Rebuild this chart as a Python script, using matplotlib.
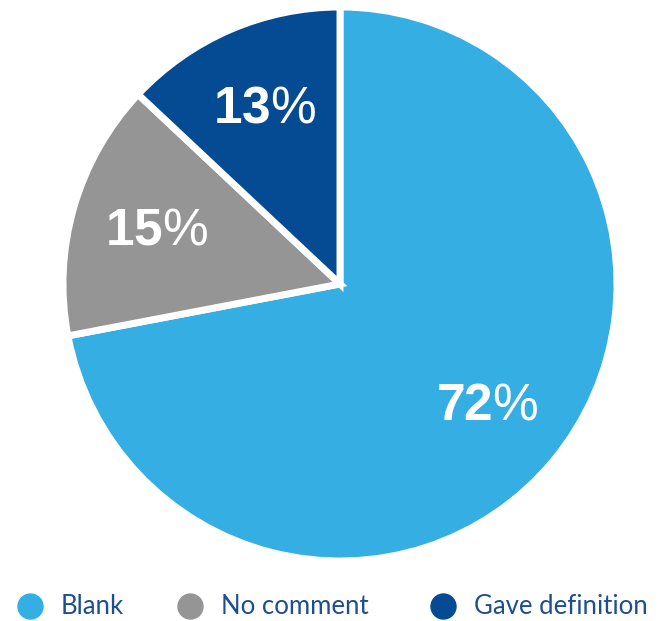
import matplotlib.pyplot as plt

# Respuestas por categoría (porcentaje)
categorias = ['Blank', 'No comment', 'Gave definition']
valores = [72, 15, 13]
colores = ['#35AEE4', '#959595', '#044B94']

plt.rcParams['mathtext.fontset'] = 'custom'
plt.rcParams['mathtext.bf'] = 'Liberation Sans:bold'

fig = plt.figure(figsize=(6.66, 6.21), dpi=100)
cx, cy, r = 340, 284, 277
ax = fig.add_axes([(cx - r) / 666, (621 - cy - r) / 621, 2 * r / 666, 2 * r / 621])

def etiqueta(p):
    return r'$\mathbf{%d}$%%' % round(p)

wedges, textos, autotextos = ax.pie(
    valores, colors=colores, startangle=90, counterclock=False,
    autopct=etiqueta, pctdistance=0.69, radius=1,
    wedgeprops=dict(edgecolor='white', linewidth=5),
    textprops=dict(color='white', fontsize=37, family='Liberation Sans'))
ax.set_xlim(-1, 1)
ax.set_ylim(-1, 1)
ax.set_aspect('equal')

# Leyenda inferior: capa en píxeles para colocar marcadores y textos
leyenda = fig.add_axes([0, 0, 1, 1], zorder=-1)
leyenda.set_xlim(0, 666)
leyenda.set_ylim(621, 0)
leyenda.axis('off')
x_marcador = [30, 190, 443]
for xm, cat, col in zip(x_marcador, categorias, colores):
    leyenda.plot(xm, 606, marker='o', markersize=18, color=col, linestyle='')
    leyenda.text(xm + 31, 607, cat, fontsize=18.5, family='Lato',
                 color='#1D4F8F', va='center', ha='left')

fig.savefig('out.png', dpi=100)
